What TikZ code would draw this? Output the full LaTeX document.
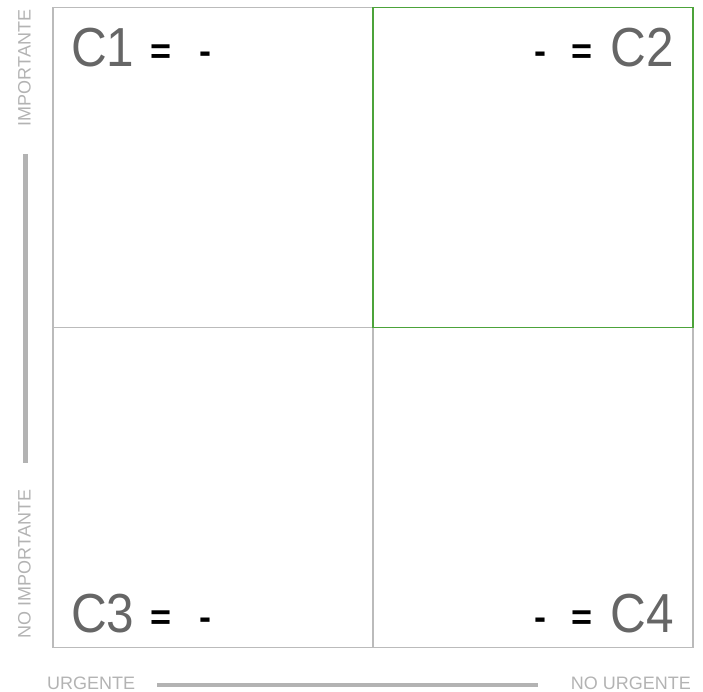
\documentclass[tikz,border=0pt]{standalone}
\usepackage{fontspec}
\setmainfont{Liberation Sans}
\newfontfamily\namefont[FakeStretch=0.9]{Liberation Sans}
\usetikzlibrary{positioning}
\definecolor{gridline}{HTML}{BBBBBB}
\definecolor{quadGreen}{HTML}{4CA33A}
\definecolor{nameGray}{HTML}{666666}
\definecolor{axisGray}{HTML}{B3B3B3}
\begin{document}
\begin{tikzpicture}[x=1pt,y=-1pt,quad/.style={draw=gridline, line width=1.1pt, minimum width=320pt, minimum height=319.5pt, inner sep=0pt, outer sep=0pt},qname/.style={font=\namefont\fontsize{55}{58}\selectfont, color=nameGray, inner sep=0pt},sign/.style={font=\fontsize{36}{40}\selectfont\bfseries, anchor=base, inner sep=0pt},axislbl/.style={font=\fontsize{18}{20}\selectfont, color=axisGray, inner sep=0pt},axisbar/.style={draw=axisGray, line width=4.5pt}]
\useasboundingbox (0,0) rectangle (703,692);
% quadrants
\node[quad] (q1) at (213,167.5) {}; \node[quad] (q3) at (213,487.5) {}; \node[quad] (q4) at (533,487.5) {};
\node[quad, draw=quadGreen] (q2) at (533,167.5) {};
% names
\node[qname, anchor=base west] (c1) at (71,67) {C1}; \node[sign] (eq1) at (161,64) {=}; \node[sign] (d1) at (205,64) {-};
\node[qname, anchor=base east] (c2) at (674,67) {C2}; \node[sign] (eq2) at (582,64) {=}; \node[sign] (d2) at (540,64) {-};
\node[qname, anchor=base west] (c3) at (71,632) {C3}; \node[sign] (eq3) at (161,629) {=}; \node[sign] (d3) at (205,629) {-};
\node[qname, anchor=base east] (c4) at (674,632) {C4}; \node[sign] (eq4) at (582,629) {=}; \node[sign] (d4) at (540,629) {-};
% axes
\node[axislbl, rotate=90] (imp) at (24.5,68) {IMPORTANTE}; \node[axislbl, rotate=90] (noimp) at (24.5,564) {NO IMPORTANTE};
\node[axislbl, anchor=base west] (urg) at (47,689) {URGENTE}; \node[axislbl, anchor=base east] (nourg) at (691,689) {NO URGENTE};
\coordinate (vtop) at (25.5,154); \coordinate (vbot) at (25.5,463); \coordinate (hl) at (157,685); \coordinate (hr) at (538,685);
\draw[axisbar] (vtop) -- (vbot); \draw[axisbar] (hl) -- (hr);
\end{tikzpicture}
\end{document}
